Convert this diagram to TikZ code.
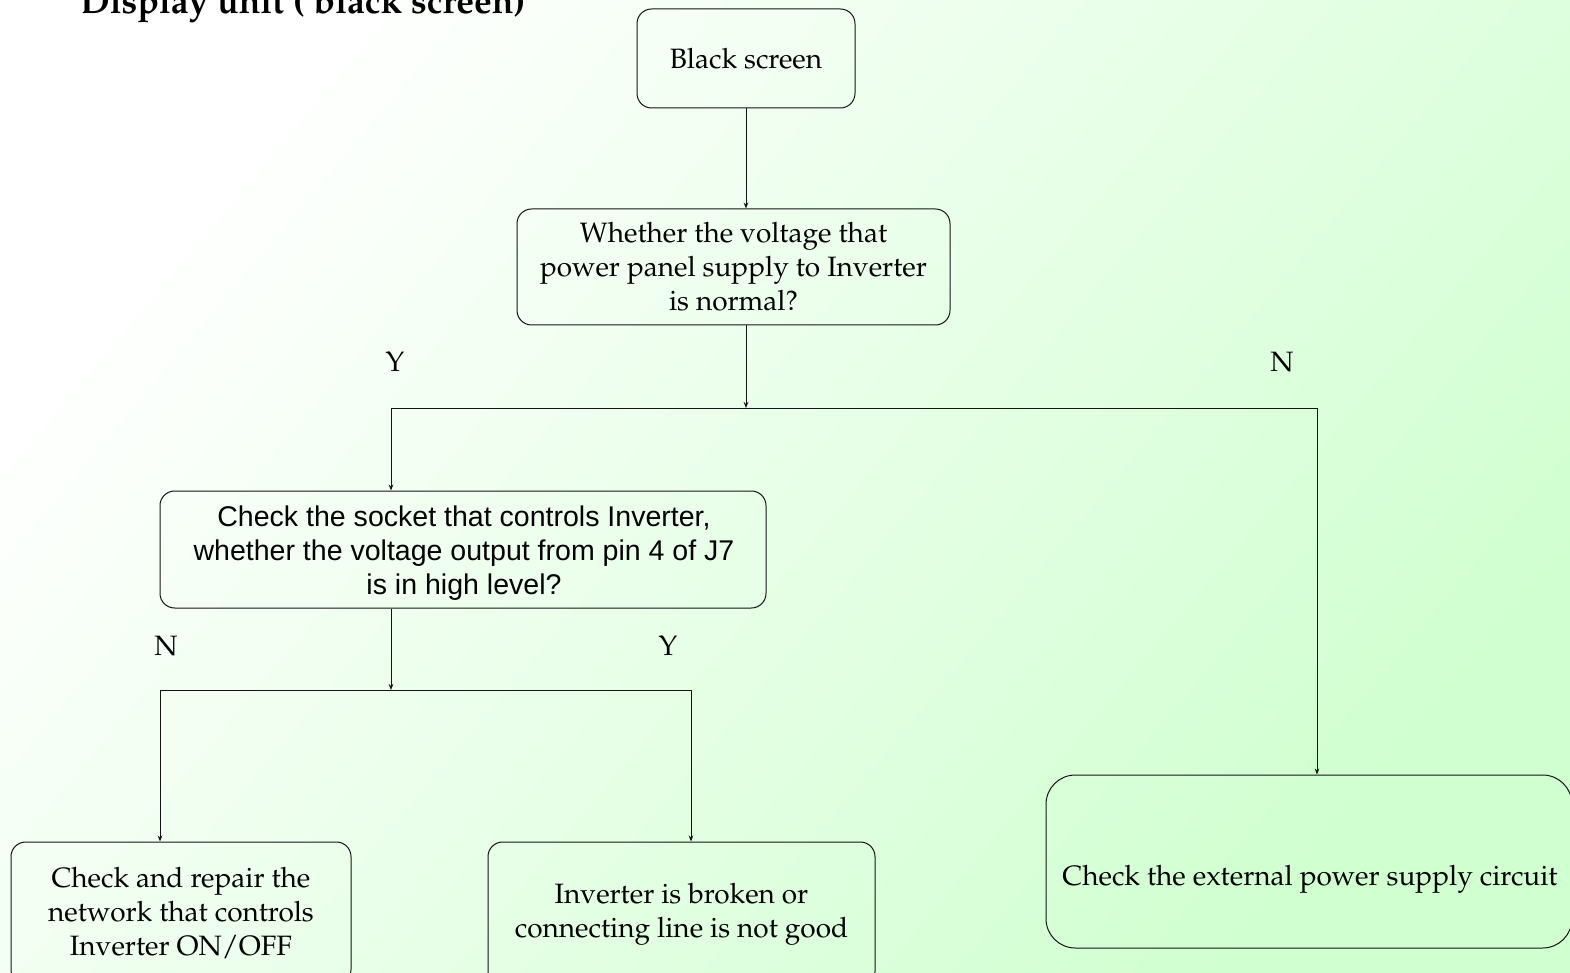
\documentclass[tikz,border=0pt]{standalone}
\usepackage[T1,TU]{fontenc}
\usepackage{fontspec}
\newfontfamily\arialish{Liberation Sans}
\newcommand\palfont{\fontencoding{T1}\fontfamily{ppl}\selectfont}
\usetikzlibrary{arrows.meta}
\definecolor{bgg}{RGB}{208,255,208}
\definecolor{edge}{RGB}{20,20,20}
\tikzset{
  box/.style={draw=edge, line width=0.75pt, rounded corners=11pt, inner sep=0pt, align=center,
    font=\palfont\fontsize{21}{25.5}\selectfont},
  lbl/.style={font=\palfont\fontsize{21}{25.5}\selectfont, inner sep=0pt},
  slbl/.style={font=\arialish\fontsize{21.4}{25.3}\selectfont, inner sep=0pt, align=center},
  conn/.style={draw=edge, line width=0.75pt},
  arr/.style={conn, -{Stealth[length=4.5pt,width=3.5pt]}}
}
\begin{document}
\begin{tikzpicture}[x=0.75pt,y=-0.75pt]
\shade[top color=white, bottom color=bgg, shading angle=50] (0,0) rectangle (1570,973);
\useasboundingbox (0,0) rectangle (1570,973);
\node[anchor=base west, inner sep=0pt, font=\palfont\fontsize{26.6}{30}\selectfont\bfseries] (title) at (80,14) {Display unit ( black screen)};
\node[box, minimum width=163.5pt, minimum height=74.25pt] (b1) at (746,58.5) {Black screen};
\node[box, minimum width=324.75pt, minimum height=87pt] (b2) at (733.5,267) {Whether the voltage that\\power panel supply to Inverter\\is normal?};
\node[box, minimum width=454.5pt, minimum height=87.75pt] (b3) at (463,549.5) {};
\node[slbl] (b3t) at (464,553) {Check the socket that controls Inverter,\\whether the voltage output from pin 4 of J7\\is in high level?};
\node[box, minimum width=255pt, minimum height=106.5pt] (b4) at (181,913) {Check and repair the\\network that controls\\Inverter ON/OFF};
\node[box, minimum width=290.25pt, minimum height=108pt] (b5) at (681.5,914) {Inverter is broken or\\connecting line is not good};
\node[box, rounded corners=22pt, minimum width=394.5pt, minimum height=129.75pt] (b6) at (1309,861.5) {};
\node[lbl] (b6t) at (1310,879) {Check the external power supply circuit};
\node[lbl] (y1) at (395,362) {Y};
\node[lbl] (n1) at (1282,362) {N};
\node[lbl] (n2) at (166,646) {N};
\node[lbl] (y2) at (668,646) {Y};
\coordinate (j1) at (746,408);
\coordinate (jl) at (391,408);
\coordinate (jr) at (1317,408);
\coordinate (j2) at (391,690);
\coordinate (kl) at (160,690);
\coordinate (kr) at (691,690);
\draw[arr] (b1.south) -- (b1.south |- b2.north);
\draw[arr] (j1 |- b2.south) -- (j1);
\draw[conn] (jl) -- (jr);
\draw[arr] (jl) -- (jl |- b3.north);
\draw[arr] (jr) -- (jr |- b6.north);
\draw[arr] (j2 |- b3.south) -- (j2);
\draw[conn] (kl) -- (kr);
\draw[arr] (kl) -- (kl |- b4.north);
\draw[arr] (kr) -- (kr |- b5.north);
\end{tikzpicture}
\end{document}
